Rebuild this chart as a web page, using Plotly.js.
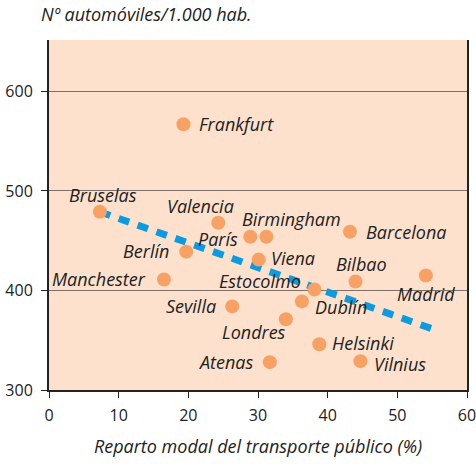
<!DOCTYPE html>
<html>
<head>
<meta charset="utf-8">
<script src="https://cdn.plot.ly/plotly-3.0.1.min.js"></script>
<style>
html,body{margin:0;padding:0;background:#fff;}
#chart{width:476px;height:464px;}
</style>
</head>
<body>
<div id="chart"></div>
<script>
// ---- Data ----
const cities = ["Frankfurt","Bruselas","Valencia","París","Birmingham","Barcelona","Berlín","Viena","Manchester","Bilbao","Madrid","Estocolmo","Dublín","Sevilla","Londres","Helsinki","Atenas","Vilnius"];
const transitShare = [19.3, 7.3, 24.3, 28.9, 31.2, 43.2, 19.7, 30.1, 16.5, 44.0, 54.1, 38.1, 36.3, 26.3, 34.0, 38.8, 31.7, 44.7];
const carsPer1000 = [567, 479, 468, 454, 454, 459, 439, 431, 411, 409, 415, 401, 389, 384, 371, 346, 328, 329];
const trendX = [7.3, 55.2];
const trendY = [479, 361];
const yTicks = [300, 400, 500, 600];
const xTicks = [0, 10, 20, 30, 40, 50, 60];

// ---- Label placement (layout only) ----
const labelPlace = {
  "Frankfurt": {anchor:"left", dx:14, dy:0},
  "Bruselas": {anchor:"center", dx:3, dy:17},
  "Valencia": {anchor:"center", dx:-18, dy:17},
  "París": {anchor:"right", dx:-10, dy:-2},
  "Birmingham": {anchor:"center", dx:25, dy:18},
  "Barcelona": {anchor:"left", dx:14, dy:0},
  "Berlín": {anchor:"right", dx:-15, dy:1},
  "Viena": {anchor:"left", dx:10, dy:2},
  "Manchester": {anchor:"right", dx:-16, dy:1},
  "Bilbao": {anchor:"center", dx:6, dy:18},
  "Madrid": {anchor:"center", dx:0, dy:-18},
  "Estocolmo": {anchor:"right", dx:-11, dy:8},
  "Dublín": {anchor:"left", dx:11, dy:-6},
  "Sevilla": {anchor:"right", dx:-14, dy:0},
  "Londres": {anchor:"right", dx:2, dy:-13},
  "Helsinki": {anchor:"left", dx:11, dy:1},
  "Atenas": {anchor:"right", dx:-14, dy:0},
  "Vilnius": {anchor:"left", dx:12, dy:-3}
};

const FONT = "Open Sans, Lato, sans-serif";
const TXT = "#222222";

const annotations = cities.map((c, i) => {
  const p = labelPlace[c];
  return {
    x: transitShare[i], y: carsPer1000[i], xref: "x", yref: "y",
    text: c, showarrow: false, xanchor: p.anchor, yanchor: "middle",
    xshift: p.dx, yshift: p.dy,
    font: {family: FONT, size: 18, color: TXT, style: "italic"}
  };
});

const traces = [
  {
    x: trendX, y: trendY, type: "scatter", mode: "lines",
    line: {color: "#0b9be0", width: 7, dash: "11px,9px"},
    hoverinfo: "skip", showlegend: false
  },
  {
    x: transitShare, y: carsPer1000, type: "scatter", mode: "markers",
    marker: {color: "#f7a264", size: 14},
    text: cities, showlegend: false
  }
];

const layout = {
  width: 476, height: 464,
  margin: {l: 49, r: 9, t: 40, b: 74},
  paper_bgcolor: "#ffffff",
  plot_bgcolor: "#fde1cc",
  showlegend: false,
  title: {
    text: "Nº automóviles/1.000 hab.",
    font: {family: FONT, size: 18, color: TXT, style: "italic"},
    xref: "container", yref: "container",
    x: 41/476, xanchor: "left", y: 1 - 15/464, yanchor: "middle"
  },
  xaxis: {
    range: [0, 60], tickvals: xTicks, ticktext: xTicks.map(String),
    showgrid: false, zeroline: false,
    showline: true, linecolor: "#222", linewidth: 2, mirror: false,
    ticks: "outside", ticklen: 6, tickwidth: 1, tickcolor: "#222",
    ticklabelstandoff: 4, ticklabeloverflow: "allow",
    tickfont: {family: FONT, size: 16, color: TXT},
    title: {text: "Reparto modal del transporte público (%)", standoff: 15,
            font: {family: FONT, size: 18, color: TXT, style: "italic"}}
  },
  yaxis: {
    range: [300, 651.6], tickvals: yTicks, ticktext: yTicks.map(String),
    showgrid: true, gridcolor: "#7d7068", gridwidth: 1,
    zeroline: false,
    showline: true, linecolor: "#222", linewidth: 2, mirror: true,
    ticks: "outside", ticklen: 6, tickwidth: 1, tickcolor: "#222",
    ticklabelstandoff: 5,
    tickfont: {family: FONT, size: 16, color: TXT}
  },
  annotations: annotations
};

Plotly.newPlot("chart", traces, layout, {displayModeBar: false, staticPlot: true});
</script>
</body>
</html>
